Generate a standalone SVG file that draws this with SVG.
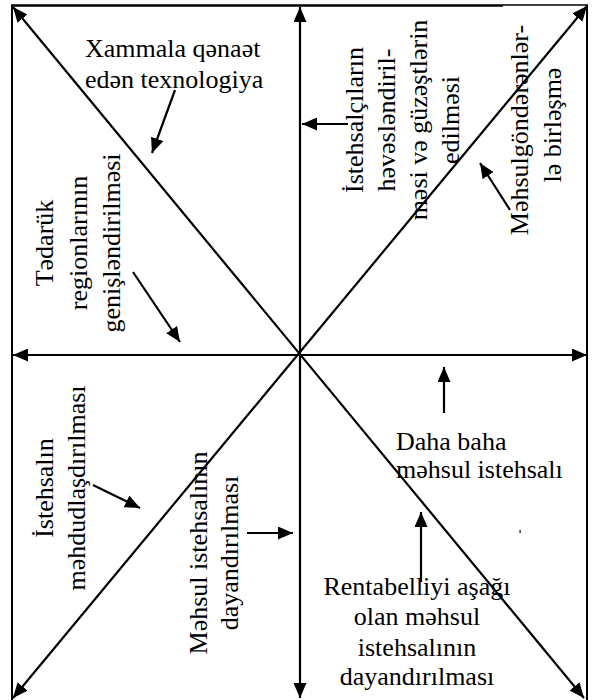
<svg xmlns="http://www.w3.org/2000/svg" width="598" height="700" viewBox="0 0 598 700">
  <defs>
    <marker id="head" markerUnits="userSpaceOnUse" markerWidth="16" markerHeight="13" refX="15" refY="6.5" orient="auto-start-reverse">
      <path d="M0,0 L15,6.5 L0,13 z" fill="#000"/>
    </marker>
  </defs>

  <!-- outer frame (open at the bottom) -->
  <g id="frame" stroke="#000" stroke-width="2" fill="none">
    <line x1="12" y1="5" x2="12" y2="700"/>
    <line x1="587" y1="5" x2="587" y2="700"/>
    <line x1="11" y1="5.5" x2="503" y2="5.5" stroke-width="2.5"/>
    <line x1="503" y1="5" x2="588" y2="5" stroke-width="1.5"/>
  </g>

  <!-- connectors: axes through the centre and short pointer arrows -->
  <g id="connectors" stroke="#000" stroke-width="2.2" fill="none" marker-end="url(#head)">
    <g marker-start="url(#head)">
      <line x1="300" y1="7" x2="300" y2="698"/>
      <line x1="13" y1="355" x2="587" y2="355"/>
      <line x1="13" y1="7" x2="584" y2="698"/>
      <line x1="587" y1="6" x2="13" y2="698"/>
    </g>
    <line x1="175" y1="90" x2="152" y2="153"/>
    <line x1="133" y1="272" x2="180" y2="342"/>
    <line x1="348" y1="124" x2="302" y2="124"/>
    <line x1="510" y1="210" x2="480" y2="163"/>
    <line x1="93" y1="485" x2="140" y2="508"/>
    <line x1="247" y1="533" x2="293" y2="533"/>
    <line x1="444" y1="413" x2="444" y2="367"/>
    <line x1="421" y1="582" x2="421" y2="512"/>
  </g>

  <!-- stray mark -->
  <rect x="519.5" y="530" width="1.2" height="3" fill="#000"/>

  <g id="labels" font-family="Liberation Serif" font-size="26" fill="#000">
    <g id="node-tech">
      <text x="85" y="57">Xammala qənaət</text>
      <text x="85" y="88">edən texnologiya</text>
    </g>

    <g id="node-regions" transform="rotate(-90)" text-anchor="middle">
      <text x="-243" y="53">Tədarük</text>
      <text x="-243" y="87">regionlarının</text>
      <text x="-243" y="120">genişləndirilməsi</text>
    </g>

    <g id="node-producers" transform="rotate(-90)" text-anchor="middle">
      <text x="-120" y="363">İstehsalçıların</text>
      <text x="-120" y="395">həvəsləndiril-</text>
      <text x="-120" y="427">məsi və güzəştlərin</text>
      <text x="-120" y="459">edilməsi</text>
    </g>

    <g id="node-suppliers" transform="rotate(-90)" text-anchor="middle">
      <text x="-130" y="528">Məhsulgöndərənlər-</text>
      <text x="-125" y="561">lə birləşmə</text>
    </g>

    <g id="node-limit" transform="rotate(-90)" text-anchor="middle">
      <text x="-488" y="53">İstehsalın</text>
      <text x="-488" y="85">məhdudlaşdırılması</text>
    </g>

    <g id="node-stop" transform="rotate(-90)" text-anchor="middle">
      <text x="-553" y="207">Məhsul istehsalının</text>
      <text x="-553" y="238">dayandırılması</text>
    </g>

    <g id="node-expensive">
      <text x="396" y="450">Daha baha</text>
      <text x="396" y="478">məhsul istehsalı</text>
    </g>

    <g id="node-unprofitable" text-anchor="middle">
      <text x="417" y="595">Rentabelliyi aşağı</text>
      <text x="417" y="625">olan məhsul</text>
      <text x="417" y="656">istehsalının</text>
      <text x="417" y="685">dayandırılması</text>
    </g>
  </g>
</svg>
